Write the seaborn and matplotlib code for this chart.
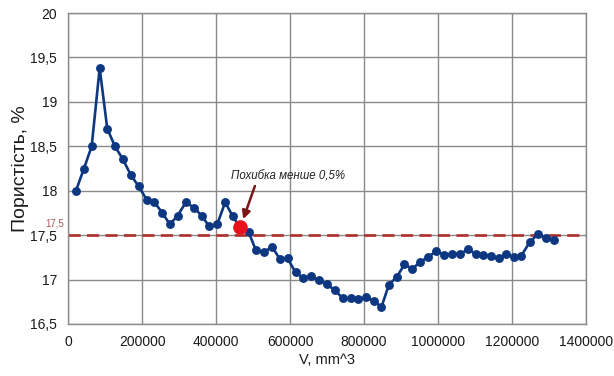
import matplotlib
matplotlib.use("Agg")
import matplotlib.pyplot as plt
import seaborn as sns
import pandas as pd

# Sample volume, mm^3
volume = [
    20800, 42400, 63300, 84900, 105400, 126200, 147000, 168700, 190300, 211900,
    233000, 254600, 274900, 295700, 318100, 339700, 360600, 381100, 402700, 424400,
    445200, 464100, 488400, 507400, 529500, 551400, 572200, 593000, 614700, 635200,
    656000, 677600, 698500, 720900, 742500, 764200, 784400, 805200, 826800, 847100,
    866900, 888500, 909300, 930900, 952000, 972300, 995200, 1016900, 1039000, 1060700,
    1081200, 1102000, 1121700, 1142600, 1164200, 1185000, 1205500, 1225500, 1248000, 1269600,
    1291200, 1312800,
]
# Porosity, %
porosity = [
    18.00, 18.25, 18.50, 19.38, 18.70, 18.50, 18.36, 18.18, 18.05, 17.90,
    17.87, 17.75, 17.62, 17.72, 17.87, 17.81, 17.72, 17.60, 17.62, 17.87,
    17.71, 17.59, 17.53, 17.33, 17.31, 17.37, 17.23, 17.24, 17.08, 17.02,
    17.04, 16.99, 16.95, 16.88, 16.79, 16.79, 16.78, 16.80, 16.76, 16.69,
    16.94, 17.03, 17.17, 17.12, 17.20, 17.25, 17.32, 17.28, 17.29, 17.29,
    17.34, 17.29, 17.28, 17.27, 17.24, 17.29, 17.25, 17.27, 17.42, 17.51,
    17.47, 17.45,
]
reference_level = 17.5
reference_label = "17,5"
highlight_index = 21
annotation_text = "Похибка менше 0,5%"
x_ticks = [0, 200000, 400000, 600000, 800000, 1000000, 1200000, 1400000]
y_ticks = [16.5, 17, 17.5, 18, 18.5, 19, 19.5, 20]
y_tick_labels = ["16,5", "17", "17,5", "18", "18,5", "19", "19,5", "20"]

sns.set_style("white")
plt.rcParams["font.family"] = ["Liberation Sans", "DejaVu Sans"]

df = pd.DataFrame({"V": volume, "P": porosity})

fig = plt.figure(figsize=(6.14, 3.76), dpi=100)
ax = fig.add_axes([0.1112, 0.1383, 0.843, 0.827])

# Reference porosity level
ax.axhline(reference_level, color="#b02f2c", lw=1.9, ls=(0, (4.6, 2.4)), zorder=2)

# Porosity vs. volume curve
sns.lineplot(data=df, x="V", y="P", ax=ax, color="#0d3781", lw=1.9,
             marker="o", markersize=6.4, markeredgewidth=0,
             markerfacecolor="#0d3781", zorder=3)

# Point where the error drops below 0.5%
hx, hy = volume[highlight_index], porosity[highlight_index]
ax.plot([hx], [hy], "o", color="#e8121c", markersize=9.5, zorder=5)

ax.annotate(annotation_text, xy=(hx + 9000, hy + 0.09),
            xytext=(440000, 18.09),
            fontsize=8.3, style="italic", color="#222222",
            ha="left", va="bottom",
            arrowprops=dict(arrowstyle="-|>", color="#7a1416", lw=1.8,
                            mutation_scale=12, shrinkA=0, shrinkB=0,
                            relpos=(0.22, 0.0)))

ax.text(-0.008, reference_level + 0.075, reference_label,
        transform=ax.get_yaxis_transform(),
        fontsize=7, color="#a85a5a", ha="right", va="bottom")

ax.set_xlim(0, 1400000)
ax.set_ylim(16.5, 20)
ax.set_xticks(x_ticks)
ax.set_xticklabels([str(t) for t in x_ticks])
ax.set_yticks(y_ticks)
ax.set_yticklabels(y_tick_labels)
ax.grid(True, color="#8a8a8a", lw=1.0)
ax.set_axisbelow(True)
for s in ax.spines.values():
    s.set_color("#8a8a8a")
    s.set_linewidth(1.0)
ax.tick_params(length=0, pad=8, labelsize=10, colors="#1a1a1a")
ax.set_xlabel("V, mm^3", fontsize=10.5, color="#1a1a1a", labelpad=3)
ax.set_ylabel("Пористість, %", fontsize=14, color="#1a1a1a", labelpad=1)

fig.savefig("out.png", dpi=100)
